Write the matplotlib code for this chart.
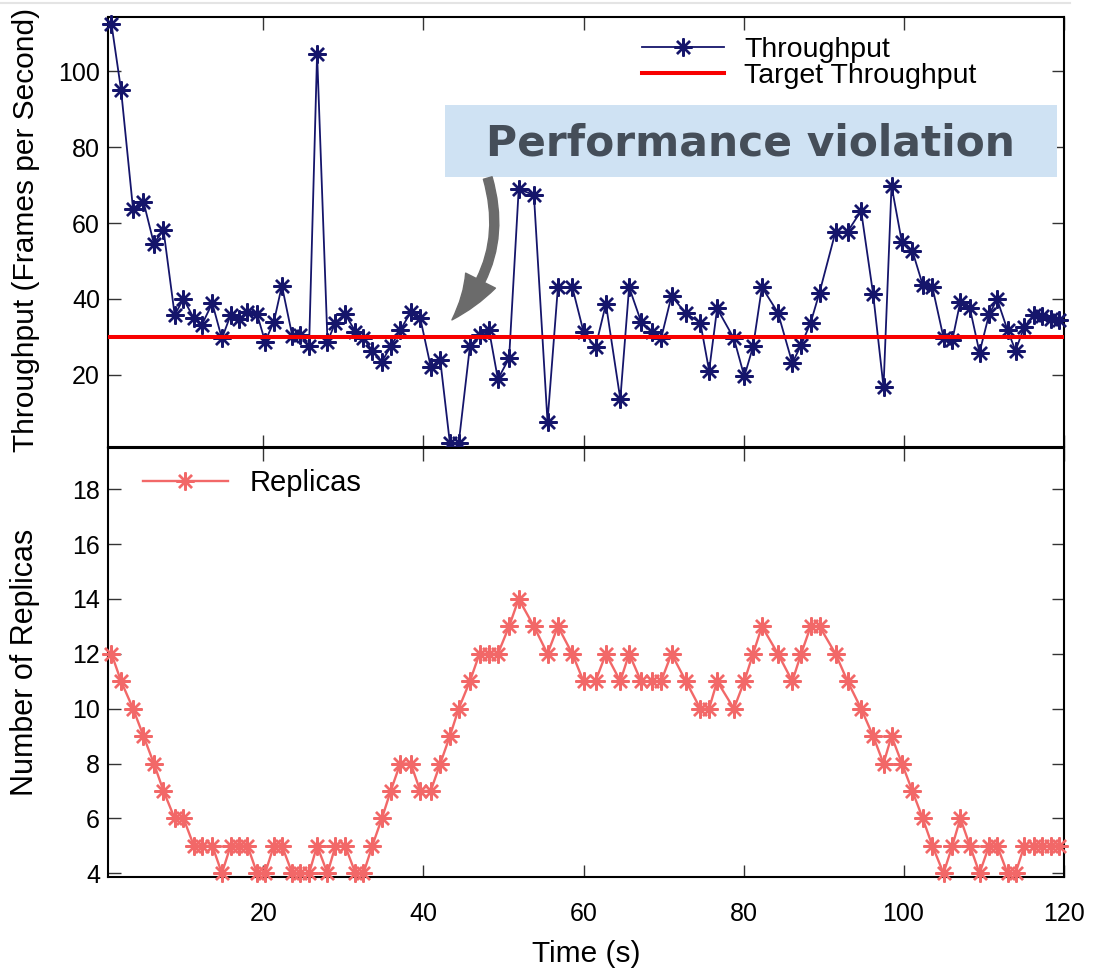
import matplotlib
matplotlib.use("Agg")
import matplotlib.pyplot as plt
from matplotlib.patches import FancyArrowPatch, Rectangle
from matplotlib.lines import Line2D

plt.rcParams['font.family'] = ['Liberation Sans', 'DejaVu Sans']

# time stamps (s), shared by both panels
time_s = [1.0, 2.2, 3.7, 5.0, 6.3, 7.5, 8.9, 10.0, 11.3, 12.3,
          13.6, 14.8, 15.9, 16.9, 18.0, 19.2, 20.2, 21.3, 22.3, 23.6,
          24.6, 25.7, 26.7, 28.0, 29.0, 30.2, 31.5, 32.5, 33.6, 34.8,
          35.9, 37.1, 38.4, 39.6, 40.9, 42.1, 43.3, 44.4, 45.8, 47.0,
          48.2, 49.3, 50.7, 51.9, 53.8, 55.5, 56.8, 58.6, 60.0, 61.5,
          62.8, 64.6, 65.7, 67.2, 68.5, 69.7, 71.0, 72.8, 74.6, 75.7,
          76.7, 78.8, 80.1, 81.2, 82.3, 84.3, 86.1, 87.2, 88.4, 89.5,
          91.5, 93.0, 94.7, 96.2, 97.5, 98.5, 99.8, 101.1, 102.4, 103.6,
          105.0, 106.1, 107.1, 108.3, 109.5, 110.7, 111.7, 113.0, 114.0, 115.1,
          116.3, 117.3, 118.4, 119.4]

throughput = [112.4, 95.0, 63.6, 65.6, 54.6, 58.2, 35.8, 40.0, 34.9, 33.2,
              38.9, 29.6, 35.8, 34.6, 36.7, 36.0, 28.8, 34.0, 43.5, 30.3,
              30.5, 27.6, 104.6, 28.8, 33.8, 36.0, 31.4, 29.6, 26.4, 23.5,
              27.5, 31.8, 36.5, 34.9, 22.2, 23.8, 2.0, 2.0, 27.5, 30.5,
              31.7, 18.9, 24.4, 68.9, 67.4, 7.7, 43.1, 43.1, 31.4, 27.3,
              38.7, 13.6, 43.1, 34.0, 31.4, 29.6, 40.8, 36.2, 33.8, 21.1,
              37.5, 29.6, 19.6, 27.5, 43.1, 36.4, 23.1, 27.9, 33.8, 41.7,
              57.7, 57.7, 63.2, 41.3, 16.8, 69.8, 54.9, 52.7, 43.7, 43.2,
              29.8, 29.2, 39.3, 37.5, 25.9, 36.0, 39.9, 31.8, 26.4, 32.7,
              35.8, 35.4, 34.6, 34.5]

replicas = [12, 11, 10, 9, 8, 7, 6, 6, 5, 5,
            5, 4, 5, 5, 5, 4, 4, 5, 5, 4,
            4, 4, 5, 4, 5, 5, 4, 4, 5, 6,
            7, 8, 8, 7, 7, 8, 9, 10, 11, 12,
            12, 12, 13, 14, 13, 12, 13, 12, 11, 11,
            12, 11, 12, 11, 11, 11, 12, 11, 10, 10,
            11, 10, 11, 12, 13, 12, 11, 12, 13, 13,
            12, 11, 10, 9, 8, 9, 8, 7, 6, 5,
            4, 5, 6, 5, 4, 5, 5, 4, 4, 5,
            5, 5, 5, 5]

target_throughput = 30
thr_yticks = [20, 40, 60, 80, 100]
rep_yticks = [4, 6, 8, 10, 12, 14, 16, 18]
x_ticks = [20, 40, 60, 80, 100, 120]

blue = '#15156b'
red = '#f80000'
salmon = '#f26868'
star = (8, 2, 0)

fig = plt.figure(figsize=(10.97, 9.69), dpi=100)
ax1 = fig.add_axes([0.0987, 0.539, 0.8708, 0.4431])
ax2 = fig.add_axes([0.0987, 0.0946, 0.8708, 0.4427])

###### Throughput
ax1.plot(time_s, throughput, color=blue, lw=1.3, marker=star, ms=13, mew=1.7,
         label='Throughput', zorder=3, clip_on=False)
ax1.axhline(target_throughput, color=red, lw=2.9, label='Target Throughput', zorder=4)
ax1.set_xlim(0.6, 120)
ax1.set_ylim(1.1, 114.15)
ax1.set_yticks(thr_yticks)
ax1.set_xticks(x_ticks)
ax1.set_xticklabels([])
ax1.set_ylabel('Throughput (Frames per Second)', fontsize=21.5)
ax1.yaxis.set_label_coords(-0.071, 0.505)
ax1.legend(loc='upper right', bbox_to_anchor=(0.93, 1.0), frameon=False, fontsize=20.5,
           handlelength=2.9, handletextpad=0.7, labelspacing=0.0, borderaxespad=0.3)

###### Replicas
ax2.plot(time_s, replicas, color=salmon, lw=1.7, marker=star, ms=13, mew=1.7,
         label='Replicas', zorder=3, clip_on=False)
ax2.set_xlim(0.6, 120)
ax2.set_ylim(3.85, 19.49)
ax2.set_yticks(rep_yticks)
ax2.set_xticks(x_ticks)
ax2.set_xlabel('Time (s)', fontsize=21.5, labelpad=10)
ax2.set_ylabel('Number of Replicas', fontsize=22)
ax2.yaxis.set_label_coords(-0.071, 0.5)
ax2.legend(loc='upper left', bbox_to_anchor=(0.015, 1.0), frameon=False, fontsize=21,
           handlelength=2.9, handletextpad=0.75, borderaxespad=0.3)

for ax in (ax1, ax2):
    for s in ax.spines.values():
        s.set_linewidth(1.5)
    ax.tick_params(direction='in', length=9, width=1.0, top=True, right=True,
                   labelsize=18, pad=6, color='#333333')
ax2.tick_params(axis='x', pad=18)

###### annotation
ax1.add_patch(Rectangle((0.3525, 0.6279), 0.6402, 0.1674, transform=ax1.transAxes,
                        facecolor='#cfe2f3', edgecolor='none', zorder=5))
ax1.text(0.6726, 0.706, 'Performance violation', transform=ax1.transAxes,
         ha='center', va='center', fontsize=30.5, fontweight='bold', color='#454e59',
         family=['DejaVu Sans'], zorder=6)
arrow = FancyArrowPatch((0.3964, 0.632), (0.3577, 0.2907), transform=ax1.transAxes,
                        connectionstyle='arc3,rad=-0.3',
                        arrowstyle='simple,head_length=3.5,head_width=2.4,tail_width=0.65',
                        mutation_scale=10, color='#6b6b6b', zorder=6)
ax1.add_patch(arrow)

fig.add_artist(Line2D([0.0, 0.975], [0.997, 0.997], color='#e4e4e4', lw=1.5))

fig.savefig('out.png', dpi=100)
